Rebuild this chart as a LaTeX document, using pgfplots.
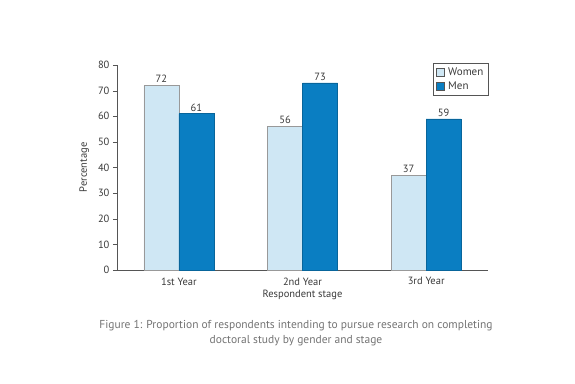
\documentclass[border=0pt]{standalone}
\usepackage{pgfplots}
\pgfplotsset{compat=1.18}
\usepackage{fontspec}
\setmainfont{PT Sans}
\definecolor{women}{HTML}{CFE7F4}
\definecolor{men}{HTML}{0A7EC2}
\definecolor{txt}{HTML}{3A3A3A}
\definecolor{axl}{HTML}{555555}
\begin{document}
\begin{tikzpicture}[x=1pt,y=1pt]
\useasboundingbox (-117,-113) rectangle (458,270);
\begin{axis}[
  at={(0,0)}, anchor=south west,
  width=371pt, height=205pt, scale only axis,
  xmin=-0.5, xmax=2.5, ymin=0, ymax=80,
  axis x line*=bottom, axis y line*=left,
  axis line style={axl, thin},
  ybar=0pt, bar width=35pt,
  ytick={0,10,...,80},
  xtick={0,1,2},
  xticklabels={1st Year,{2nd Year\\Respondent stage},3rd Year},
  xticklabel style={align=center, font=\fontsize{10.5}{12}\selectfont, text=txt},
  major x tick style={draw=none},
  extra x ticks={0.5,1.5,2.5},
  extra x tick labels={},
  extra x tick style={tick style={draw=axl}},
  tick align=outside,
  major tick length=4pt,
  ytick style={axl},
  yticklabel style={font=\fontsize{10.5}{12}\selectfont, text=txt},
  /pgf/number format/assume math mode=true,
  ylabel={Percentage},
  ylabel style={font=\fontsize{10.5}{12}\selectfont, text=txt, yshift=2pt},
  nodes near coords,
  nodes near coords style={font=\fontsize{10.5}{12}\selectfont, text=txt, yshift=-1pt},
  legend style={at={(1,1.01)}, anchor=north east, draw=axl, font=\fontsize{11}{13}\selectfont, text=txt, legend cell align=left, inner sep=2.5pt, row sep=1pt},
  legend image code/.code={\draw[#1, draw=axl] (0pt,-3.5pt) rectangle (8pt,4.5pt); \path[draw=none, fill=none] (0pt,0pt) -- (10pt,0pt);},
  clip=false,
]
\addplot[fill=women, draw=gray!80] coordinates {(0,72) (1,56) (2,37)};
\addplot[fill=men, draw=men!80!black] coordinates {(0,61) (1,73) (2,59)};
\legend{Women,Men}
\end{axis}
\node[text=gray!90!black, align=center, font=\fontsize{11.5}{15}\selectfont] at (179,-63) {Figure 1: Proportion of respondents intending to pursue research on completing\\doctoral study by gender and stage};
\end{tikzpicture}
\end{document}
